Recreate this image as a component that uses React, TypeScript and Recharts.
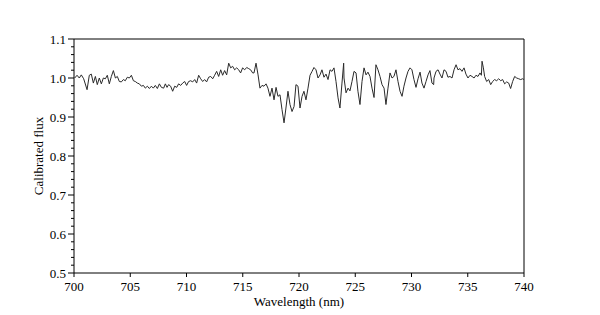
import { LineChart, Line, XAxis, YAxis, ReferenceLine, Label } from "recharts";

// spectrum, split by wavelength range
const wl700 = [700.06, 700.27, 700.47, 700.65, 700.86, 701.16, 701.36, 701.54, 701.72, 701.9, 702.07, 702.25, 702.43, 702.61, 702.79, 702.96, 703.14, 703.32, 703.5, 703.68, 703.85, 704.03, 704.21, 704.39, 704.56, 704.74, 704.92, 705.1, 705.28, 705.45, 705.63, 705.81, 705.99, 706.17, 706.34, 706.52, 706.7, 706.88, 707.05, 707.23, 707.41, 707.59, 707.77];
const flux700 = [1.0, 1.007, 1.0, 1.008, 0.998, 0.97, 1.007, 1.01, 0.987, 1.004, 0.983, 1.0, 0.985, 1.0, 0.998, 1.007, 0.985, 1.004, 1.019, 1.0, 1.004, 0.991, 0.99, 0.996, 0.993, 1.002, 1.0, 1.007, 0.993, 0.991, 0.987, 0.985, 0.979, 0.981, 0.974, 0.979, 0.973, 0.979, 0.974, 0.981, 0.973, 0.985, 0.976];

const wl708 = [707.97, 708.12, 708.27, 708.41, 708.59, 708.77, 708.95, 709.13, 709.3, 709.48, 709.66, 709.84, 710.01, 710.19, 710.37, 710.55, 710.73, 710.9, 711.08, 711.26, 711.44, 711.61, 711.79, 711.97, 712.15, 712.33, 712.5, 712.68, 712.86, 713.04, 713.21, 713.39, 713.57, 713.75, 713.93, 714.1, 714.28, 714.46, 714.64, 714.81, 714.99, 715.17, 715.35, 715.53, 715.7, 715.88];
const flux708 = [0.974, 0.985, 0.976, 0.983, 0.979, 0.966, 0.979, 0.976, 0.985, 0.981, 0.987, 0.991, 0.981, 0.991, 0.993, 0.99, 0.996, 0.987, 1.007, 0.998, 0.991, 0.996, 0.99, 1.002, 1.004, 0.998, 1.007, 1.017, 1.004, 1.021, 1.007, 1.019, 1.008, 1.038, 1.026, 1.03, 1.021, 1.026, 1.021, 1.013, 1.026, 1.021, 1.027, 1.024, 1.021, 1.013];

const wl716 = [716.0, 716.18, 716.36, 716.53, 716.71, 716.89, 717.07, 717.24, 717.42, 717.6, 717.78, 717.96, 718.13, 718.31, 718.49, 718.67, 718.84, 719.02, 719.2, 719.38, 719.56, 719.73, 719.91, 720.09, 720.27, 720.44, 720.62, 720.8, 720.98, 721.16, 721.33, 721.51, 721.69, 721.87, 722.04, 722.22, 722.4, 722.58, 722.76, 722.93, 723.11, 723.29, 723.47, 723.64, 723.82, 723.97];
const flux716 = [1.013, 1.038, 1.008, 0.974, 0.981, 0.979, 0.985, 0.974, 0.953, 0.974, 0.944, 0.976, 0.953, 0.957, 0.919, 0.885, 0.923, 0.966, 0.932, 0.914, 0.927, 0.983, 0.979, 0.923, 0.953, 0.966, 0.944, 0.974, 1.007, 1.017, 1.027, 1.021, 1.0, 1.008, 1.021, 1.002, 1.01, 0.996, 1.021, 1.017, 1.026, 0.991, 0.949, 0.923, 0.987, 1.038];

const wl724 = [724.0, 724.18, 724.36, 724.53, 724.71, 724.89, 725.07, 725.24, 725.42, 725.6, 725.78, 725.96, 726.13, 726.31, 726.49, 726.67, 726.84, 727.02, 727.2, 727.38, 727.56, 727.73, 727.91, 728.09, 728.27, 728.44, 728.62, 728.8, 728.98, 729.16, 729.33, 729.51, 729.69, 729.87, 730.04, 730.22, 730.4, 730.58, 730.76, 730.93, 731.11, 731.29, 731.47, 731.64, 731.82, 731.97];
const flux724 = [1.0, 0.962, 0.974, 0.967, 0.991, 1.017, 1.013, 0.966, 0.932, 0.991, 1.026, 1.008, 1.015, 1.004, 0.974, 0.95, 1.034, 1.021, 1.004, 0.983, 0.974, 0.932, 0.974, 1.013, 1.0, 1.004, 1.021, 0.991, 0.966, 0.953, 0.979, 1.0, 1.017, 1.026, 1.021, 0.996, 0.976, 0.998, 1.015, 0.987, 0.974, 0.991, 1.008, 1.019, 0.987, 0.983];

const wl732 = [732.0, 732.18, 732.36, 732.53, 732.71, 732.89, 733.07, 733.24, 733.42, 733.6, 733.78, 733.96, 734.13, 734.31, 734.49, 734.67, 734.84, 735.02, 735.2, 735.38, 735.56, 735.73, 735.91, 736.09, 736.21, 736.27, 736.39, 736.5, 736.68, 736.86, 737.04, 737.21, 737.39, 737.57, 737.75, 737.93, 738.1, 738.28, 738.46, 738.64, 738.81, 738.99, 739.17, 739.35, 739.53, 739.7, 739.88, 740.0];
const flux732 = [1.0, 1.017, 1.021, 1.01, 1.0, 1.021, 1.017, 1.002, 1.004, 1.0, 1.021, 1.034, 1.021, 1.024, 1.017, 1.026, 1.01, 1.0, 1.007, 1.004, 1.0, 1.007, 1.004, 1.013, 1.007, 1.043, 1.026, 1.004, 0.991, 0.996, 0.983, 0.991, 0.996, 0.993, 0.998, 0.993, 0.996, 0.985, 0.99, 0.987, 0.973, 0.991, 1.004, 1.0, 0.998, 0.996, 0.998, 0.996];

const xTicks = [700, 705, 710, 715, 720, 725, 730, 735, 740];
const yTicks = [0.5, 0.52, 0.54, 0.56, 0.58, 0.6, 0.62, 0.64, 0.66, 0.68, 0.7, 0.72, 0.74, 0.76, 0.78, 0.8, 0.82, 0.84, 0.86, 0.88, 0.9, 0.92, 0.94, 0.96, 0.98, 1.0, 1.02, 1.04, 1.06, 1.08, 1.1];

const wavelengths = [...wl700, ...wl708, ...wl716, ...wl724, ...wl732];
const fluxes = [...flux700, ...flux708, ...flux716, ...flux724, ...flux732];
const data = wavelengths.map((wl, i) => ({ wl, flux: fluxes[i] }));

const font = "'Liberation Serif', 'Times New Roman', serif";

const YTick = (props: any) => {
  const { x, y, payload } = props;
  const v = payload.value;
  const major = Math.abs(v * 10 - Math.round(v * 10)) < 1e-6;
  return (
    <g>
      <line x1={x - (major ? 6 : 3)} x2={x} y1={y} y2={y} stroke="#000" />
      {major && (
        <text x={x - 8} y={y + 4.5} textAnchor="end" fontFamily={font} fontSize={13} fill="#000">
          {v.toFixed(1)}
        </text>
      )}
    </g>
  );
};

const XTick = (props: any) => {
  const { x, y, payload } = props;
  return (
    <g>
      <line x1={x} x2={x} y1={y} y2={y + 4} stroke="#000" />
      <text x={x} y={y + 18} textAnchor="middle" fontFamily={font} fontSize={13} fill="#000">
        {payload.value}
      </text>
    </g>
  );
};

export default function App() {
  return (
    <LineChart
      width={584}
      height={307}
      data={data}
      margin={{ top: 31, right: 68, bottom: 12, left: 16 }}
    >
      <XAxis
        dataKey="wl"
        type="number"
        domain={[700, 740]}
        ticks={xTicks}
        interval={0}
        height={30}
        tickSize={0}
        tickMargin={0}
        tickLine={false}
        tick={<XTick />}
        axisLine={{ stroke: "#000" }}
      >
        <Label
          content={({ viewBox }: any) => (
            <text
              x={viewBox.x + viewBox.width / 2}
              y={viewBox.y + 33}
              textAnchor="middle"
              fontFamily={font}
              fontSize={13}
              fill="#000"
            >
              Wavelength (nm)
            </text>
          )}
        />
      </XAxis>
      <YAxis
        type="number"
        domain={[0.5, 1.1]}
        ticks={yTicks}
        interval={0}
        width={50}
        tickSize={0}
        tickMargin={0}
        tickLine={false}
        tick={<YTick />}
        axisLine={{ stroke: "#000" }}
      >
        <Label
          content={({ viewBox }: any) => {
            const cx = viewBox.x + 19;
            const cy = viewBox.y + viewBox.height / 2;
            return (
              <text
                x={cx}
                y={cy}
                transform={`rotate(-90, ${cx}, ${cy})`}
                textAnchor="middle"
                fontFamily={font}
                fontSize={13}
                fill="#000"
              >
                Calibrated flux
              </text>
            );
          }}
        />
      </YAxis>
      <ReferenceLine y={1.1} stroke="#000" />
      <ReferenceLine x={740} stroke="#000" />
      <Line
        type="linear"
        dataKey="flux"
        stroke="#2a2a2a"
        strokeWidth={1}
        dot={false}
        activeDot={false}
        isAnimationActive={false}
      />
    </LineChart>
  );
}
